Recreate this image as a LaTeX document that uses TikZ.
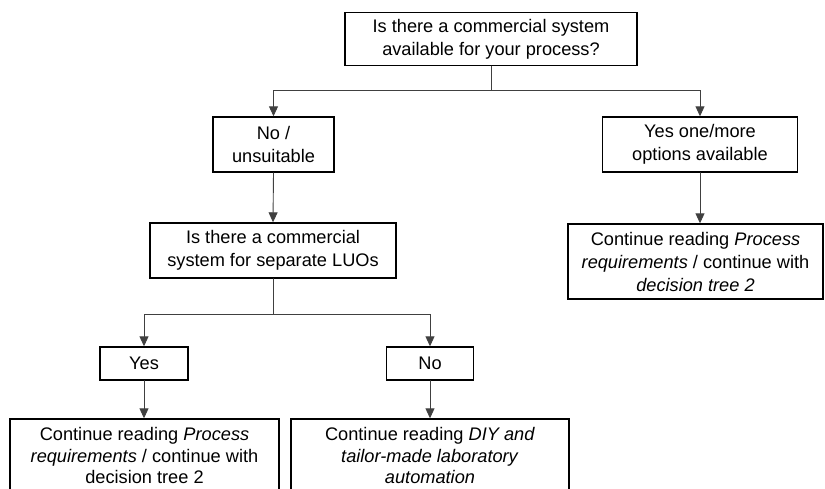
\documentclass[tikz,border=0pt]{standalone}
\usepackage{fontspec}
\setmainfont{Liberation Sans}
\usetikzlibrary{arrows.meta}

\begin{document}
\begin{tikzpicture}[x=1pt,y=-1pt,line cap=round,
  every node/.style={font=\fontsize{18.2}{23}\selectfont},
  box/.style={draw=black,line width=1.4pt,align=center,inner sep=0pt},
  lastbox/.style={box,font=\fontsize{18.2}{21.5}\selectfont},
  link/.style={draw=black!75,line width=0.9pt},
  arr/.style={link,-{Triangle[length=10pt,width=9pt]}}]
  \useasboundingbox (0,0) rectangle (825,488);

  % first question
  \node[box,minimum width=292pt,minimum height=53pt] (qsys) at (491,39) {Is there a commercial system\\available for your process?};
  \node[box,minimum width=121pt,minimum height=55pt] (nofit) at (273.5,144.5) {No /\\unsuitable};
  \node[box,minimum width=195pt,minimum height=55pt] (yesopt) at (700,144.5) {Yes one/more\\options available};
  \node[box,minimum width=255pt,minimum height=75pt] (contr) at (695.5,261.5) {Continue reading \textit{Process}\\\textit{requirements} / continue with\\\textit{decision tree 2}};
  \coordinate (split1) at (491,90);
  \draw[link] (qsys.south) -- (split1);
  \draw[arr] (split1) -| (nofit.north);
  \draw[arr] (split1) -| (yesopt.north);
  \draw[arr] (yesopt.south) -- (yesopt.south |- contr.north);

  % second question
  \node[box,minimum width=246pt,minimum height=55pt] (qluo) at (273,250.5) {Is there a commercial\\system for separate LUOs};
  \draw[arr] (nofit.south) -- (qluo.north);
  \node[box,minimum width=88pt,minimum height=33pt] (yesluo) at (144,363.5) {Yes};
  \node[box,minimum width=87pt,minimum height=33pt] (noluo) at (430,363.5) {No};
  \coordinate (split2) at (273,314);
  \draw[link] (qluo.south) -- (split2);
  \draw[arr] (split2) -| (yesluo.north);
  \draw[arr] (split2) -| (noluo.north);

  % outcomes
  \node[lastbox,minimum width=269pt,minimum height=73pt] (contl) at (144.5,455.5) {Continue reading \textit{Process}\\\textit{requirements} / continue with\\decision tree 2};
  \node[lastbox,minimum width=278pt,minimum height=73pt] (diy) at (430,455.5) {Continue reading \textit{DIY and}\\\textit{tailor-made laboratory}\\\textit{automation}};
  \draw[arr] (yesluo.south) -- (yesluo.south |- contl.north);
  \draw[arr] (noluo.south) -- (noluo.south |- diy.north);
\end{tikzpicture}
\end{document}
